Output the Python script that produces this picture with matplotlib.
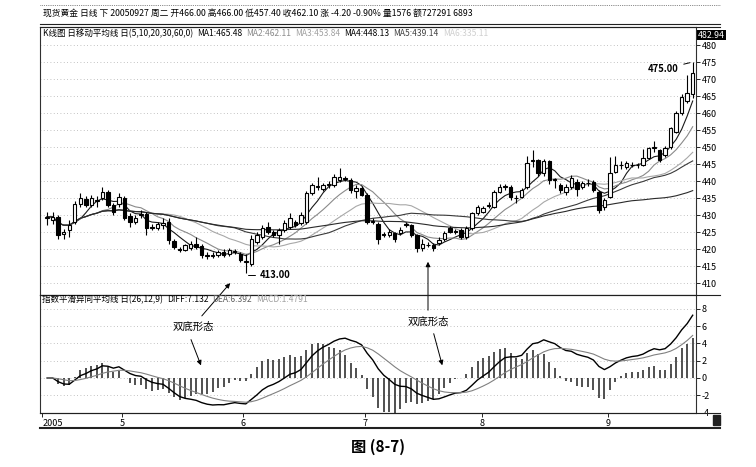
import matplotlib.pyplot as plt
from matplotlib.lines import Line2D
from matplotlib.patches import Rectangle
import numpy as np
import pandas as pd

plt.rcParams['font.family'] = ['Noto Sans CJK SC', 'DejaVu Sans']

W, H = 756, 467

# daily candles (April - 27 Sept 2005)
opens = [429.0, 428.5, 429.3, 424.5, 425.5, 428.0, 433.4, 434.7, 433.0, 434.0,
         434.9, 436.9, 433.0, 433.3, 434.9, 429.8, 428.0, 430.0, 430.3, 426.5,
         426.3, 427.0, 428.0, 422.4, 419.9, 419.8, 420.3, 421.6, 421.0, 418.3,
         418.1, 418.2, 419.2, 418.6, 419.2, 418.6, 416.1, 415.5, 422.2, 423.6,
         426.6, 425.1, 424.1, 425.6, 426.6, 428.0, 427.6, 428.0, 436.4, 438.3,
         437.8, 438.8, 438.8, 440.3, 440.8, 440.3, 437.0, 438.0, 436.0, 428.0,
         427.5, 424.3, 424.1, 424.6, 424.6, 427.1, 427.1, 424.1, 420.2, 421.1,
         421.1, 421.8, 423.0, 426.1, 425.3, 425.6, 423.6, 426.1, 430.5, 431.0,
         432.6, 432.4, 436.9, 438.3, 438.3, 435.0, 435.4, 438.3, 446.0, 446.2,
         442.3, 445.8, 440.3, 438.8, 436.9, 438.3, 439.8, 438.3, 439.3, 439.8,
         436.9, 432.4, 435.4, 442.8, 444.6, 444.2, 444.7, 444.6, 444.7, 446.9,
         449.8, 449.1, 447.7, 450.1, 454.5, 459.9, 463.5, 465.5]
closes = [429.5, 429.5, 424.1, 425.0, 427.0, 433.4, 434.9, 433.0, 434.9, 434.3,
          436.9, 433.0, 430.9, 435.2, 429.0, 428.0, 429.0, 430.3, 426.1, 426.3,
          427.3, 427.6, 422.6, 420.5, 419.7, 421.1, 421.6, 420.6, 418.2, 418.1,
          418.3, 419.2, 418.3, 419.6, 419.3, 416.7, 416.4, 423.0, 424.1, 426.1,
          425.1, 424.1, 425.6, 427.6, 429.0, 427.0, 430.0, 436.4, 438.8, 438.6,
          438.8, 439.0, 441.3, 441.3, 440.6, 437.3, 438.0, 436.0, 428.0, 428.2,
          423.1, 424.1, 425.1, 423.1, 425.6, 427.3, 424.1, 420.2, 421.6, 421.2,
          420.2, 422.8, 424.6, 425.1, 425.1, 423.6, 426.1, 430.5, 432.4, 432.0,
          433.0, 436.9, 438.3, 438.5, 435.4, 434.9, 437.4, 445.2, 446.2, 442.3,
          445.8, 440.3, 440.5, 437.4, 438.3, 440.8, 437.8, 439.3, 439.5, 437.4,
          431.5, 434.4, 442.3, 444.7, 444.7, 445.2, 444.8, 444.7, 446.7, 449.6,
          450.0, 446.2, 449.6, 455.5, 459.9, 464.8, 465.8, 471.7]
highs = [431.0, 431.0, 430.0, 426.0, 428.5, 434.0, 436.5, 435.5, 436.0, 435.5,
         438.3, 437.5, 433.5, 436.5, 435.5, 430.5, 430.0, 431.5, 431.0, 427.5,
         428.0, 429.0, 429.0, 423.0, 420.5, 421.5, 422.5, 423.5, 421.5, 419.0,
         419.0, 419.8, 420.0, 420.3, 420.0, 419.0, 418.5, 424.0, 425.0, 427.0,
         428.0, 425.5, 426.3, 428.5, 430.5, 428.5, 431.0, 437.0, 439.5, 441.3,
         439.5, 440.0, 442.0, 443.8, 441.5, 440.8, 438.8, 438.5, 436.5, 429.0,
         428.0, 425.0, 426.0, 425.0, 426.5, 428.0, 427.5, 424.5, 423.0, 422.0,
         421.8, 423.5, 425.2, 426.8, 426.0, 426.3, 426.8, 431.0, 433.0, 432.8,
         433.8, 437.5, 439.0, 439.0, 438.8, 435.8, 438.0, 447.3, 449.1, 446.5,
         446.5, 446.3, 441.0, 439.5, 439.0, 441.8, 440.5, 440.0, 440.5, 440.3,
         437.3, 435.0, 447.0, 447.3, 446.0, 446.0, 445.5, 445.3, 449.5, 450.0,
         451.8, 449.5, 450.2, 456.0, 460.5, 465.5, 471.3, 475.0]
lows = [427.0, 427.5, 423.0, 423.0, 423.5, 427.5, 432.5, 432.5, 432.5, 432.5,
        434.5, 432.5, 430.0, 432.5, 428.5, 426.5, 427.5, 429.0, 424.0, 425.5,
        425.5, 426.0, 421.5, 420.0, 419.0, 419.5, 419.8, 420.0, 417.5, 417.0,
        417.5, 417.8, 417.8, 418.0, 418.5, 416.2, 413.0, 415.0, 421.5, 423.0,
        424.5, 423.5, 421.5, 425.0, 426.0, 426.5, 427.0, 427.5, 436.0, 437.5,
        437.0, 438.0, 438.3, 439.8, 440.0, 436.5, 435.0, 435.5, 427.5, 427.5,
        421.5, 423.5, 423.5, 422.0, 424.0, 426.5, 423.5, 419.0, 419.5, 420.5,
        419.5, 421.3, 422.5, 424.6, 424.5, 423.0, 423.0, 425.5, 430.0, 430.5,
        432.0, 432.0, 436.5, 437.5, 434.5, 433.5, 435.0, 437.8, 444.0, 441.5,
        441.5, 439.0, 438.0, 436.5, 436.0, 437.8, 435.5, 437.8, 438.5, 436.8,
        430.5, 431.5, 435.0, 442.3, 443.5, 443.5, 444.0, 443.8, 444.3, 446.5,
        448.5, 445.5, 447.0, 449.5, 454.0, 459.5, 463.0, 464.5]

ma_periods = [5, 10, 20, 30, 60]
ma_colors = ['#1a1a1a', '#8a8a8a', '#a8a8a8', '#3a3a3a', '#2a2a2a']
month_pos = [-0.9, 13.6, 35.5, 57.6, 78.8, 101.6]
month_labels = ['2005', '5', '6', '7', '8', '9']
price_ticks = np.arange(410, 481, 5)
macd_ticks = [-4, -2, 0, 2, 4, 6, 8]


def fx(px):
    return px / W


def fy(py):
    return 1 - py / H


fig = plt.figure(figsize=(W / 100, H / 100), dpi=100)
fig.patch.set_facecolor('white')
renderer = fig.canvas.get_renderer()


def text_row(y, x0, parts, size=6.1, gap=4):
    # lay header pieces one after the other
    xp = x0
    for txt, col in parts:
        t = fig.text(fx(xp), fy(y), txt, fontsize=size, va='center', ha='left',
                     color=col)
        xp += t.get_window_extent(renderer=renderer).width + gap


ax = fig.add_axes([fx(40), fy(295), fx(696) - fx(40), fy(27) - fy(295)])
ax2 = fig.add_axes([fx(40), fy(413), fx(696) - fx(40), fy(295) - fy(413)])

x = np.arange(len(closes))
o = np.array(opens)
c = np.array(closes)
up = c >= o

# --- candles
ax.vlines(x, lows, highs, color='black', lw=0.8, zorder=3)
ax.bar(x[up], c[up] - o[up], bottom=o[up], width=0.62, facecolor='white',
       edgecolor='black', lw=0.8, zorder=4)
ax.bar(x[~up], c[~up] - o[~up], bottom=o[~up], width=0.62, facecolor='black',
       edgecolor='black', lw=0.8, zorder=4)

s = pd.Series(closes)
for p, col in zip(ma_periods, ma_colors):
    ax.plot(x, s.rolling(p, min_periods=1).mean(), color=col, lw=0.8, zorder=2)

ax.set_xlim(-1.3, 117.6)
ax.set_ylim(406.5, 485.3)
ax.yaxis.tick_right()
ax.set_yticks(price_ticks)
ax.set_yticklabels([str(v) for v in price_ticks])
ax.tick_params(axis='y', labelsize=6.5, length=3, width=0.6, pad=1)
ax.tick_params(axis='x', bottom=False, labelbottom=False)
for v in price_ticks:
    ax.axhline(v, color='#b0b0b0', lw=0.6, ls=(0, (1, 3)), zorder=0)

# --- MACD
ema12 = s.ewm(span=12, adjust=False).mean()
ema26 = s.ewm(span=26, adjust=False).mean()
diff = ema12 - ema26
dea = diff.ewm(span=9, adjust=False).mean()
macd = 2 * (diff - dea)

ax2.vlines(x, 0, macd, color='#202020', lw=1.1, zorder=2)
ax2.plot(x, diff, color='black', lw=1.0, zorder=3)
ax2.plot(x, dea, color='#808080', lw=0.8, zorder=3)
ax2.set_xlim(-1.3, 117.6)
ax2.set_ylim(-4.05, 9.6)
ax2.yaxis.tick_right()
ax2.set_yticks(macd_ticks)
ax2.set_yticklabels([str(v) for v in macd_ticks])
ax2.tick_params(axis='y', labelsize=6.5, length=3, width=0.6, pad=1)
for v in macd_ticks:
    ax2.axhline(v, color='#b0b0b0', lw=0.6, ls=(0, (1, 3)), zorder=0)
ax2.set_xticks(month_pos)
ax2.set_xticklabels(month_labels)
ax2.tick_params(axis='x', labelsize=6.5, length=3, width=0.6, pad=1)
ax2.get_xticklabels()[0].set_ha('left')

for a in (ax, ax2):
    for sp in a.spines.values():
        sp.set_color('#303030')
        sp.set_linewidth(0.8)

# --- frame lines past the right axis
for yy, lw, ls in [(5, 0.5, ':'), (24, 0.8, '-'), (27, 0.8, '-'), (295, 0.8, '-'),
                   (413, 0.8, '-'), (428, 1.5, '-')]:
    fig.add_artist(Line2D([fx(40), fx(720)], [fy(yy), fy(yy)], color='#202020',
                          lw=lw, ls=ls))
fig.add_artist(Rectangle((fx(713), fy(425)), fx(7), 10 / H, color='#202020'))

# --- header texts
text_row(14, 43, [('现货黄金 日线 下 20050927 周二 开466.00 高466.00 低457.40 '
                   '收462.10 涨 -4.20 -0.90% 量1576 额727291 6893', 'black')],
         size=6.3)
text_row(34, 43, [('K线图 日移动平均线 日(5,10,20,30,60,0)', 'black'),
                  ('MA1:465.48', 'black'),
                  ('MA2:462.11', '#8a8a8a'),
                  ('MA3:453.84', '#a0a0a0'),
                  ('MA4:448.13', 'black'),
                  ('MA5:439.14', '#404040'),
                  ('MA6:335.11', '#cfcfcf')])
text_row(300, 42, [('指数平滑异同平均线 日(26,12,9)', 'black'),
                   ('DIFF:7.132', 'black'),
                   ('DEA:6.392', '#606060'),
                   ('MACD:1.4791', '#a0a0a0')])

fig.text(fx(698), fy(35), '482.94', fontsize=6.3, va='center', ha='left',
         color='white', bbox=dict(boxstyle='square,pad=0.1', fc='black', ec='none'))

# --- price markers
ax.annotate('413.00', xy=(36, 413.0), xytext=(38.6, 412.4), fontsize=6.8,
            fontweight='bold', va='center', ha='left',
            arrowprops=dict(arrowstyle='-', lw=0.7, color='black',
                            connectionstyle='angle,angleA=0,angleB=90'))
ax.annotate('475.00', xy=(117, 475.0), xytext=(111.6, 472.9), fontsize=6.8,
            fontweight='bold', va='center', ha='center',
            arrowprops=dict(arrowstyle='-', lw=0.7, color='black'))

# --- double bottom notes (drawn from the lower panel so they sit on top)
arrow = dict(arrowstyle='-|>', lw=0.7, color='black', mutation_scale=7)
for tail, head in [((200, 318), (232, 281)), ((190, 337), (202, 368)),
                   ((428, 313), (428, 259)), ((433, 331), (443, 368))]:
    ax2.annotate('', xy=(head[0], H - head[1]), xycoords='figure pixels',
                 xytext=(tail[0], H - tail[1]), textcoords='figure pixels',
                 arrowprops=arrow, annotation_clip=False)
fig.text(fx(193), fy(327), '双底形态', fontsize=7.5, ha='center', va='center')
fig.text(fx(428), fy(322), '双底形态', fontsize=7.5, ha='center', va='center')

fig.text(fx(378), fy(447), '图 (8-7)', fontsize=11, fontweight='bold',
         ha='center', va='center')

fig.savefig('out.png', dpi=100)
